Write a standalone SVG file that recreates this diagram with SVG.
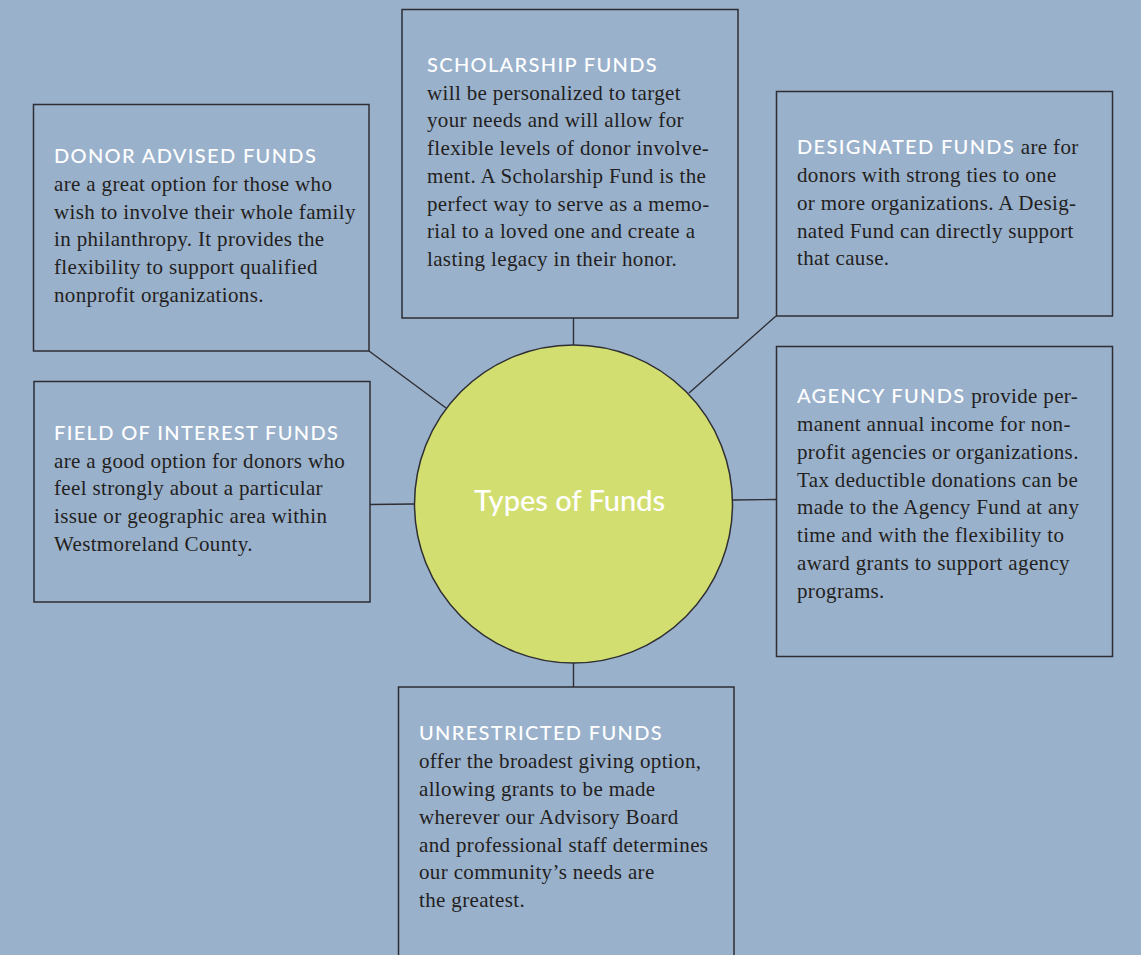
<svg xmlns="http://www.w3.org/2000/svg" width="1141" height="955" viewBox="0 0 1141 955">
<style>
.bg{fill:#9ab1cc}
.box{fill:none;stroke:#2e2e33;stroke-width:1.5}
.conn line{stroke:#2e2e33;stroke-width:1.4}
.hub{fill:#d2de70;stroke:#2e2e33;stroke-width:1.5}
.h{font-family:Lato,"Open Sans",sans-serif;font-size:20px;fill:#ffffff;letter-spacing:1.35px;font-weight:500}
.b{font-family:"Liberation Serif","Times New Roman",serif;font-size:21px;fill:#231f20;letter-spacing:0.35px}
.hubt{font-family:Lato,"Open Sans",sans-serif;font-size:29px;fill:#ffffff;font-weight:500}
</style>
<rect class="bg" x="0" y="0" width="1141" height="955"/>
<g id="connectors" class="conn">
<line x1="369" y1="351" x2="446" y2="408"/>
<line x1="573.5" y1="318" x2="573.5" y2="345"/>
<line x1="776" y1="316" x2="689" y2="393"/>
<line x1="370" y1="504.5" x2="414" y2="504"/>
<line x1="733" y1="500" x2="776" y2="499.5"/>
<line x1="573.5" y1="663" x2="573.5" y2="687"/>
</g>
<g id="donor-advised">
<rect class="box" x="33.5" y="104.5" width="335.5" height="246.5"/>
<text class="h" x="54" y="163">DONOR ADVISED FUNDS</text>
<text class="b" x="54" y="191">are a great option for those who</text>
<text class="b" x="54" y="218.5">wish to involve their whole family</text>
<text class="b" x="54" y="246">in philanthropy. It provides the</text>
<text class="b" x="54" y="274">flexibility to support qualified</text>
<text class="b" x="54" y="301.5">nonprofit organizations.</text>
</g>
<g id="scholarship">
<rect class="box" x="402" y="9.5" width="336" height="308.5"/>
<text class="h" x="427" y="72">SCHOLARSHIP FUNDS</text>
<text class="b" x="427" y="99.5">will be personalized to target</text>
<text class="b" x="427" y="127.3">your needs and will allow for</text>
<text class="b" x="427" y="155">flexible levels of donor involve-</text>
<text class="b" x="427" y="183">ment. A Scholarship Fund is the</text>
<text class="b" x="427" y="210.5">perfect way to serve as a memo-</text>
<text class="b" x="427" y="238.3">rial to a loved one and create a</text>
<text class="b" x="427" y="266">lasting legacy in their honor.</text>
</g>
<g id="designated">
<rect class="box" x="776.5" y="91.5" width="336" height="224.5"/>
<text x="797" y="154.3"><tspan class="h">DESIGNATED FUNDS</tspan><tspan class="b"> are for</tspan></text>
<text class="b" x="797" y="182.3">donors with strong ties to one</text>
<text class="b" x="797" y="210">or more organizations. A Desig-</text>
<text class="b" x="797" y="237.7">nated Fund can directly support</text>
<text class="b" x="797" y="265.3">that cause.</text>
</g>
<g id="field-of-interest">
<rect class="box" x="34" y="381.5" width="336" height="220.5"/>
<text class="h" x="54" y="440">FIELD OF INTEREST FUNDS</text>
<text class="b" x="54" y="467.5">are a good option for donors who</text>
<text class="b" x="54" y="495.3">feel strongly about a particular</text>
<text class="b" x="54" y="523">issue or geographic area within</text>
<text class="b" x="54" y="550.8">Westmoreland County.</text>
</g>
<g id="agency">
<rect class="box" x="776.5" y="346.5" width="336" height="310"/>
<text x="797" y="403.3"><tspan class="h">AGENCY FUNDS</tspan><tspan class="b"> provide per-</tspan></text>
<text class="b" x="797" y="431">manent annual income for non-</text>
<text class="b" x="797" y="458.7">profit agencies or organizations.</text>
<text class="b" x="797" y="486.5">Tax deductible donations can be</text>
<text class="b" x="797" y="514">made to the Agency Fund at any</text>
<text class="b" x="797" y="542">time and with the flexibility to</text>
<text class="b" x="797" y="569.7">award grants to support agency</text>
<text class="b" x="797" y="597.5">programs.</text>
</g>
<g id="unrestricted">
<rect class="box" x="398.5" y="687" width="335.5" height="280"/>
<text class="h" x="419" y="740">UNRESTRICTED FUNDS</text>
<text class="b" x="419" y="768.3">offer the broadest giving option,</text>
<text class="b" x="419" y="796">allowing grants to be made</text>
<text class="b" x="419" y="823.8">wherever our Advisory Board</text>
<text class="b" x="419" y="851.5">and professional staff determines</text>
<text class="b" x="419" y="879.3">our community’s needs are</text>
<text class="b" x="419" y="907">the greatest.</text>
</g>
<g id="hub">
<circle class="hub" cx="573.5" cy="504" r="159"/>
<text class="hubt" x="569.5" y="511" text-anchor="middle">Types of Funds</text>
</g>
</svg>
